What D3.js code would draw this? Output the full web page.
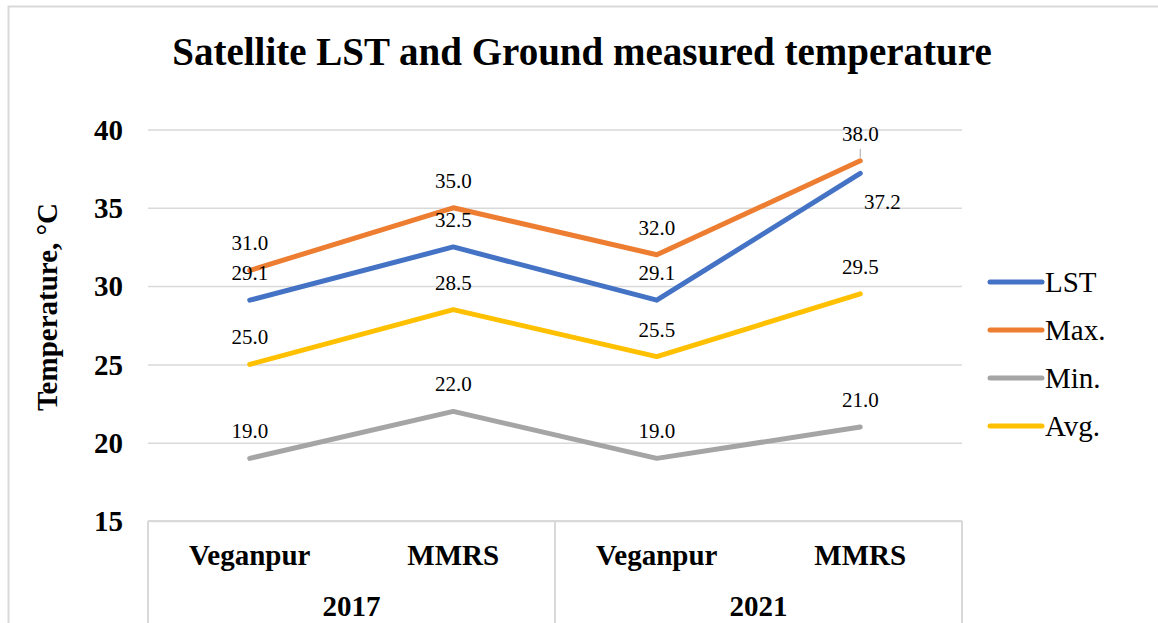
<!DOCTYPE html>
<html>
<head>
<meta charset="utf-8">
<script src="https://cdn.jsdelivr.net/npm/d3@7"></script>
<style>
  body { margin: 0; background: #fff; }
  text { font-family: "Liberation Serif", "Times New Roman", serif; fill: #000; }
</style>
</head>
<body>
<div id="my_chart"></div>
<script>
// data
var sites = ["Veganpur", "MMRS", "Veganpur", "MMRS"];
var years = ["2017", "2021"];
var seriesNames = ["LST", "Max.", "Min.", "Avg."];
var lst = [29.1, 32.5, 29.1, 37.2];
var maxT = [31.0, 35.0, 32.0, 38.0];
var minT = [19.0, 22.0, 19.0, 21.0];
var avgT = [25.0, 28.5, 25.5, 29.5];
var yTicks = [15, 20, 25, 30, 35, 40];

var colors = ["#4472C4", "#ED7D31", "#A5A5A5", "#FFC000"];
var series = [lst, maxT, minT, avgT];

var W = 1158, H = 623;
var plotLeft = 148, plotRight = 962, plotTop = 129.5, plotBottom = 521;

var svg = d3.select("#my_chart")
  .append("svg")
    .attr("width", W)
    .attr("height", H);

// chart border
svg.append("rect")
  .attr("x", 8.5).attr("y", 6.5)
  .attr("width", 1300).attr("height", 800)
  .attr("fill", "none")
  .attr("stroke", "#d9d9d9")
  .attr("stroke-width", 2);

// title
svg.append("text")
  .attr("x", 582).attr("y", 65)
  .attr("text-anchor", "middle")
  .style("font-size", "39px")
  .style("font-weight", "bold")
  .text("Satellite LST and Ground measured temperature");

// scales
var x = d3.scaleBand()
  .domain(d3.range(sites.length))
  .range([plotLeft, plotRight]);
var cx = function(i) { return x(i) + x.bandwidth() / 2; };

var y = d3.scaleLinear()
  .domain([15, 40])
  .range([plotBottom, plotTop]);

// Y axis + gridlines
var yAxis = svg.append("g")
  .attr("transform", "translate(" + plotLeft + ",0)")
  .call(d3.axisLeft(y).tickValues(yTicks).tickSize(-(plotRight - plotLeft)).tickPadding(25));
yAxis.select(".domain").remove();
yAxis.selectAll("line")
  .attr("stroke", "#d9d9d9")
  .attr("stroke-width", 1.5);
yAxis.selectAll("text")
  .style("font-size", "29px")
  .style("font-weight", "bold")
  .attr("dy", "0.34em");

// axis title
svg.append("text")
  .attr("transform", "translate(57,307) rotate(-90)")
  .attr("text-anchor", "middle")
  .style("font-size", "29px")
  .style("font-weight", "bold")
  .text("Temperature, \u00B0C");

// category axis (two levels)
var cat = svg.append("g");
cat.append("line")
  .attr("x1", plotLeft).attr("x2", plotRight)
  .attr("y1", plotBottom).attr("y2", plotBottom)
  .attr("stroke", "#d9d9d9").attr("stroke-width", 2);
[plotLeft, x(2), plotRight].forEach(function(px) {
  cat.append("line")
    .attr("x1", px).attr("x2", px)
    .attr("y1", plotBottom).attr("y2", H)
    .attr("stroke", "#d9d9d9").attr("stroke-width", 2);
});
cat.selectAll(".site")
  .data(sites)
  .enter()
  .append("text")
    .attr("x", function(d, i) { return cx(i); })
    .attr("y", 565)
    .attr("text-anchor", "middle")
    .style("font-size", "29px")
    .style("font-weight", "bold")
    .text(function(d) { return d; });
cat.selectAll(".year")
  .data(years)
  .enter()
  .append("text")
    .attr("x", function(d, i) { return x(i * 2) + x.bandwidth(); })
    .attr("y", 616)
    .attr("text-anchor", "middle")
    .style("font-size", "29px")
    .style("font-weight", "bold")
    .text(function(d) { return d; });

// lines
var line = d3.line()
  .x(function(d, i) { return cx(i); })
  .y(function(d) { return y(d); });

svg.selectAll(".series")
  .data(series)
  .enter()
  .append("path")
    .attr("d", function(d) { return line(d); })
    .attr("fill", "none")
    .attr("stroke", function(d, i) { return colors[i]; })
    .attr("stroke-width", 5)
    .attr("stroke-linecap", "round")
    .attr("stroke-linejoin", "round");

// data labels
series.forEach(function(vals, s) {
  vals.forEach(function(v, i) {
    var dx = 0, dy = -20;
    if (s === 0 && i === 3) { dx = 22; dy = 36; }
    if (s === 1 && i === 3) {
      svg.append("line")
        .attr("x1", cx(i)).attr("x2", cx(i))
        .attr("y1", y(v) - 3).attr("y2", y(v) - 12)
        .attr("stroke", "#a6a6a6").attr("stroke-width", 1);
    }
    svg.append("text")
      .attr("x", cx(i) + dx)
      .attr("y", y(v) + dy)
      .attr("text-anchor", "middle")
      .style("font-size", "21px")
      .text(v.toFixed(1));
  });
});

// legend
var legend = svg.selectAll(".legend")
  .data(seriesNames)
  .enter()
  .append("g")
    .attr("transform", function(d, i) { return "translate(990," + (282 + i * 48) + ")"; });
legend.append("line")
  .attr("x1", 0).attr("x2", 52)
  .attr("stroke", function(d, i) { return colors[i]; })
  .attr("stroke-width", 5)
  .attr("stroke-linecap", "round");
legend.append("text")
  .attr("x", 55)
  .attr("y", 10)
  .style("font-size", "29px")
  .text(function(d) { return d; });
</script>
</body>
</html>
